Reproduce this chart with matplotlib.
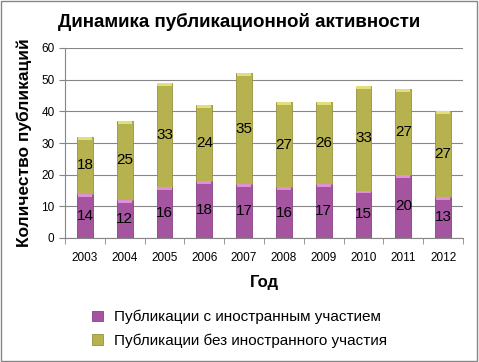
import matplotlib.pyplot as plt
import numpy as np
from matplotlib.patches import Rectangle

years = ['2003', '2004', '2005', '2006', '2007', '2008', '2009', '2010', '2011', '2012']
foreign = [14, 12, 16, 18, 17, 16, 17, 15, 20, 13]
no_foreign = [18, 25, 33, 24, 35, 27, 26, 33, 27, 27]

purple = '#A5559F'
olive = '#B6B24F'

plt.rcParams['font.family'] = ['Liberation Sans', 'DejaVu Sans']

fig = plt.figure(figsize=(4.79, 3.62), dpi=100)
ax = fig.add_axes([65 / 479, 1 - 238 / 362, 398 / 479, 190 / 362])

x = np.arange(len(years))
w = 0.4
b1 = ax.bar(x, foreign, w, color=purple, edgecolor='#8A4285', linewidth=0.6,
            label='Публикации с иностранным участием', zorder=3)
b2 = ax.bar(x, no_foreign, w, bottom=foreign, color=olive, edgecolor='#979340', linewidth=0.6,
            label='Публикации без иностранного участия', zorder=3)

# light bevel at the top of each segment
for i in x:
    ax.bar(i, 0.9, w * 0.9, bottom=foreign[i] - 0.9, color='#E08FD9', linewidth=0, zorder=4)
    ax.bar(i, 0.9, w * 0.9, bottom=foreign[i] + no_foreign[i] - 0.9, color='#E2DE7A', linewidth=0, zorder=4)

for i in x:
    ax.text(i, foreign[i] / 2, str(foreign[i]), ha='center', va='center', fontsize=11, zorder=5)
    ax.text(i, foreign[i] + no_foreign[i] / 2, str(no_foreign[i]), ha='center', va='center',
            fontsize=11, zorder=5)

ax.set_xlim(-0.5, len(years) - 0.5)
ax.set_ylim(0, 60)
ax.set_yticks(range(0, 61, 10))
ax.set_xticks(x)
ax.set_xticklabels(years, fontsize=8.5)
ax.set_xticks(np.arange(-0.5, len(years), 1), minor=True)
ax.tick_params(axis='x', which='major', length=0, pad=10)
ax.tick_params(axis='x', which='minor', length=4, color='#868686')
ax.tick_params(axis='y', labelsize=8.5, length=4, color='#868686')
ax.grid(axis='y', color='#868686', linewidth=0.8, zorder=0)

for s in ['top', 'right']:
    ax.spines[s].set_visible(False)
ax.spines['left'].set_color('#868686')
ax.spines['bottom'].set_color('#868686')

ax.set_ylabel('Количество публикаций', fontsize=12.5, fontweight='bold', labelpad=7)
ax.set_xlabel('Год', fontsize=12, fontweight='bold', labelpad=8)
fig.text(0.5, 1 - 22 / 362, 'Динамика публикационной активности', ha='center', va='center',
         fontsize=13.5, fontweight='bold')

fig.legend(handles=[b1, b2], loc='center', bbox_to_anchor=(0.5, 1 - 329 / 362),
           frameon=False, fontsize=11, handlelength=0.7, handleheight=0.7,
           handletextpad=0.7, labelspacing=0.6)

fig.patches.append(Rectangle((0.002, 0.003), 0.994, 0.994, transform=fig.transFigure,
                             fill=False, edgecolor='#868686', linewidth=1))

fig.savefig('out.png', dpi=100)
